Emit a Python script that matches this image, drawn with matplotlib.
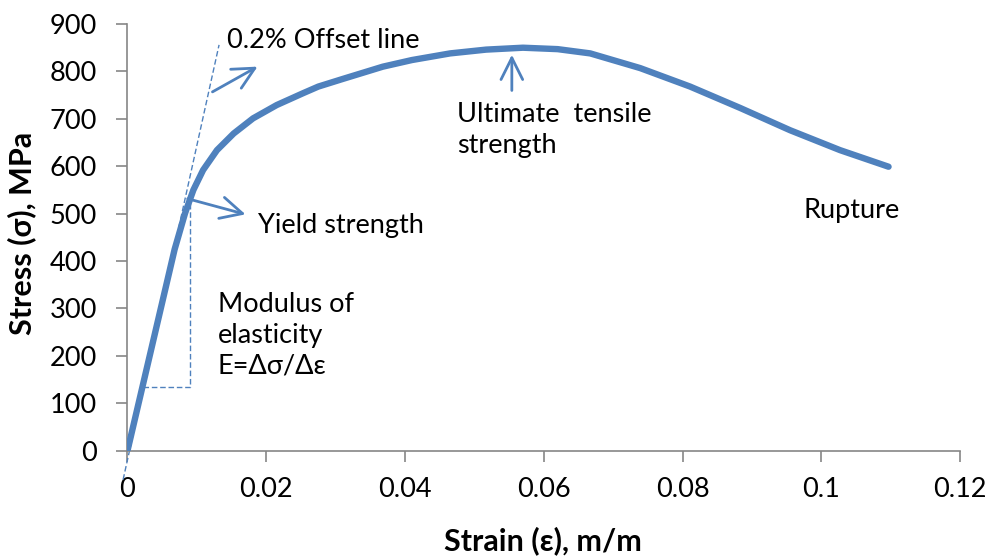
import matplotlib
matplotlib.use("Agg")
import matplotlib.pyplot as plt

plt.rcParams.update({
    "font.family": ["Lato", "DejaVu Sans"],
    "font.size": 19.5,
})

# ── Data ──────────────────────────────────────────────────
strain = [0, 0.0068, 0.0083, 0.0095, 0.0109, 0.0129, 0.0153, 0.0181, 0.0215,
          0.0253, 0.0275, 0.0310, 0.0368, 0.0410, 0.0465, 0.0517, 0.0570,
          0.0620, 0.0667, 0.0739, 0.0811, 0.0883, 0.0955, 0.1027, 0.1097]
stress = [0, 425, 501, 550, 592, 634, 669, 701, 729,
          754, 768, 784, 810, 824, 838, 846, 850,
          847, 838, 807, 768, 723, 676, 634, 599]

offset_x = [-0.00063, 0.0132]
offset_y = [-61, 856]
tri_x = [0.0022, 0.0090, 0.0090]
tri_y = [134, 134, 535]

x_ticks = [0, 0.02, 0.04, 0.06, 0.08, 0.1, 0.12]
x_labels = ["0", "0.02", "0.04", "0.06", "0.08", "0.1", "0.12"]
y_ticks = list(range(0, 1000, 100))

blue = "#4F81BD"
grey = "#868686"

fig = plt.figure(figsize=(9.89, 5.57), dpi=100)
ax = fig.add_axes([0.1289, 0.1908, 0.8418, 0.7661])

ax.plot(strain, stress, color=blue, linewidth=4.6, solid_capstyle="round",
        solid_joinstyle="round", zorder=3)
ax.plot(offset_x, offset_y, color=blue, linewidth=1.0, linestyle=(0, (4, 2)), clip_on=False)
ax.plot(tri_x, tri_y, color=blue, linewidth=1.0, linestyle=(0, (4, 2)))

arrow = dict(arrowstyle="->,head_length=0.8,head_width=0.4", color=blue, lw=2.0)
ax.annotate("", xy=(0.0191, 813), xytext=(0.0119, 754), arrowprops=arrow)
ax.annotate("", xy=(0.0174, 497), xytext=(0.0083, 533), arrowprops=arrow)
ax.annotate("", xy=(0.0554, 841), xytext=(0.0554, 754), arrowprops=arrow)

ax.text(0.0144, 865, "0.2% Offset line", ha="left", va="center")
ax.text(0.0188, 474, "Yield strength", ha="left", va="center")
ax.text(0.0130, 244, "Modulus of\nelasticity\nE=\u0394\u03c3/\u0394\u03b5", ha="left", va="center",
        linespacing=1.3)
ax.text(0.0475, 676, "Ultimate  tensile\nstrength", ha="left", va="center", linespacing=1.3)
ax.text(0.0974, 506, "Rupture", ha="left", va="center")

ax.set_xlim(0, 0.12)
ax.set_ylim(0, 900)
ax.set_xticks(x_ticks)
ax.set_xticklabels(x_labels)
ax.set_yticks(y_ticks)

for side in ["top", "right"]:
    ax.spines[side].set_visible(False)
for side in ["left", "bottom"]:
    ax.spines[side].set_color(grey)
    ax.spines[side].set_linewidth(1.2)
ax.tick_params(axis="both", direction="out", length=8, width=1.2, color=grey,
               labelsize=19.5, labelcolor="black")
ax.tick_params(axis="x", pad=11)
ax.tick_params(axis="y", pad=14)

ax.set_xlabel("Strain (\u03b5), m/m", fontweight="bold", fontsize=22)
ax.set_ylabel("Stress (\u03c3), MPa", fontweight="bold", fontsize=22)
ax.xaxis.set_label_coords(0.499, -0.2116)
ax.xaxis.label.set_va("center")
ax.yaxis.set_label_coords(-0.1268, 0.510)
ax.yaxis.label.set_va("center")

fig.savefig("out.png", dpi=100)
